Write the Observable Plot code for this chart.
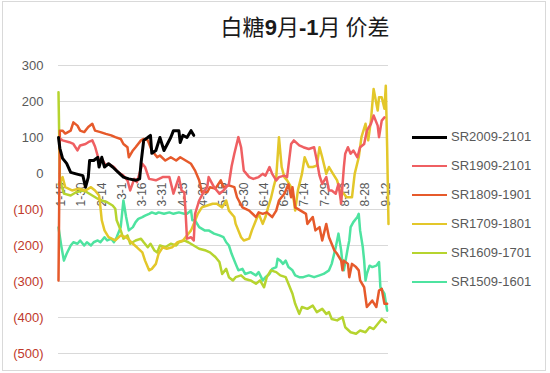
<!DOCTYPE html>
<html><head><meta charset="utf-8">
<script src="https://cdn.jsdelivr.net/npm/d3@7"></script>
<script src="https://cdn.jsdelivr.net/npm/@observablehq/plot@0.6"></script>
<style>
body{margin:0;background:#fff;}
#wrap{position:relative;width:550px;height:373px;overflow:hidden;font-family:"Liberation Sans",Arial,sans-serif;}
#frame{position:absolute;left:2px;top:1px;width:544px;height:370px;border:1px solid #d9d9d9;box-sizing:border-box;}
#title{position:absolute;left:0;width:610px;top:10px;text-align:center;font-family:"Noto Sans CJK SC",sans-serif;font-size:22px;color:#1a1a1a;line-height:30px;}
#title b{font-family:"Liberation Sans",Arial,sans-serif;font-weight:bold;}
#chart{position:absolute;left:0;top:0;}
.lg{position:absolute;left:412px;width:35px;}
.lt{position:absolute;left:451px;font-size:13px;color:#595959;line-height:16px;}
</style></head>
<body><div id="wrap"><div id="frame"></div><div id="chart"></div><div id="title">白糖<b>9</b>月<b>-1</b>月 价差</div><div id="legend"></div></div>
<script>
// tick values / labels
const yTicks = [300, 200, 100, 0, -100, -200, -300, -400, -500];
const xTickDays = [15, 30, 45, 60, 75, 90, 105, 120, 135, 150, 165, 180, 195, 210, 225, 240, 255];
const xTickLabels = ["1-15","1-30","2-14","3-1","3-16","3-31","4-15","4-30","5-15","5-30","6-14","6-29","7-14","7-29","8-13","8-28","9-12"];
const seriesNames = ["SR2009-2101","SR1909-2101","SR1809-1901","SR1709-1801","SR1609-1701","SR1509-1601"];
const seriesColors = ["#000000","#ef5f62","#e65a2b","#e3c72a","#b6d42f","#4ee3a0"];

// [day of year, spread]
const sr2009 = [[13,100],[14,70],[16,42],[19,28],[22,3],[26,-1],[31,-6],[33,-38],[35,-11],[36,36],[39,36],[42,45],[43,18],[45,45],[47,18],[50,27],[53,18],[57,4],[61,-10],[65,-15],[70,-19],[73,-15],[74,28],[76,92],[79,100],[81,106],[82,56],[85,64],[88,100],[91,64],[96,100],[98,119],[102,119],[103,86],[105,106],[108,100],[111,119],[113,106]];
const sr1909 = [[14,97],[16,92],[21,87],[24,82],[27,64],[29,78],[33,82],[35,87],[38,92],[40,75],[43,36],[45,41],[48,22],[50,27],[54,18],[56,8],[59,-1],[61,-6],[64,-19],[66,-47],[69,-15],[71,-24],[75,27],[77,18],[80,-15],[85,-19],[90,-10],[95,-10],[98,-56],[102,-10],[104,-47],[106,-52],[107,-110],[108,-181],[111,-177],[113,-186],[114,-112],[117,-75],[121,-47],[123,-38],[124,-10],[128,-38],[132,-56],[135,-47],[139,-29],[141,20],[143,55],[146,101],[148,73],[150,8],[154,-10],[157,-15],[161,-10],[164,-1],[166,-6],[169,18],[171,-1],[174,-19],[176,-10],[180,-6],[182,-10],[185,82],[187,92],[191,78],[194,73],[198,68],[202,73],[204,36],[206,-6],[208,-29],[211,-10],[213,-47],[215,-47],[218,-56],[220,-29],[222,-83],[224,18],[225,55],[227,73],[229,55],[231,64],[234,45],[236,73],[239,82],[241,119],[244,138],[246,161],[249,133],[250,101],[252,147],[254,156]];
const sr1809 = [[13,-297],[14,119],[16,119],[18,111],[22,119],[24,142],[27,133],[29,119],[32,115],[35,129],[38,138],[40,119],[44,115],[48,110],[52,106],[55,101],[59,96],[61,82],[64,73],[65,45],[68,64],[70,73],[74,92],[76,96],[79,92],[82,64],[86,45],[88,50],[92,36],[96,45],[100,36],[103,45],[107,36],[111,27],[114,8],[117,-19],[119,-52],[123,-52],[125,-38],[129,-42],[133,-19],[135,-38],[139,-33],[143,-38],[145,-66],[149,-94],[154,-103],[159,-121],[161,-108],[164,-112],[167,-108],[171,-121],[174,-103],[176,-75],[180,-56],[183,-30],[185,-66],[186,-38],[188,-94],[192,-103],[196,-112],[197,-140],[201,-121],[203,-158],[206,-149],[208,-186],[211,-140],[213,-177],[217,-214],[219,-223],[222,-242],[223,-269],[224,-242],[227,-251],[228,-288],[230,-251],[233,-260],[235,-269],[236,-297],[239,-316],[241,-371],[245,-353],[248,-371],[250,-325],[252,-320],[254,-362],[256,-362]];
const sr1709 = [[13,-30],[16,-10],[18,-38],[23,-47],[28,-42],[33,-47],[37,-38],[40,-47],[43,-61],[44,-94],[45,-130],[47,-158],[50,-177],[55,-186],[59,-172],[63,-177],[68,-195],[71,-205],[75,-219],[77,-242],[80,-269],[82,-265],[85,-251],[87,-223],[90,-205],[93,-209],[97,-205],[101,-191],[105,-186],[108,-172],[111,-158],[113,-140],[116,-112],[119,-94],[123,-89],[127,-84],[130,-84],[134,-94],[137,-75],[139,-103],[143,-121],[144,-140],[148,-177],[150,-186],[154,-181],[156,-158],[159,-130],[161,-112],[164,-140],[166,-121],[168,-94],[170,-70],[172,-38],[174,-10],[175,45],[176,101],[178,18],[180,-10],[182,-19],[185,-38],[187,-75],[188,-103],[190,-47],[193,-1],[195,45],[198,18],[201,18],[204,22],[206,73],[208,45],[211,-1],[213,18],[216,-1],[219,-19],[221,-47],[224,-56],[226,-66],[230,-66],[232,-1],[235,45],[237,101],[240,138],[242,92],[244,147],[246,235],[249,175],[250,212],[252,212],[254,180],[255,244],[256,73],[257,-140]];
const sr1609 = [[13,226],[14,-10],[15,-30],[17,-56],[22,-61],[26,-52],[31,-47],[34,-52],[38,-61],[42,-70],[45,-75],[49,-80],[53,-89],[55,-98],[56,-130],[59,-158],[61,-181],[64,-172],[66,-195],[70,-186],[74,-181],[76,-191],[79,-205],[81,-195],[84,-214],[86,-219],[88,-200],[92,-205],[96,-195],[100,-200],[102,-191],[106,-186],[109,-191],[113,-200],[117,-209],[122,-214],[125,-219],[129,-232],[132,-246],[134,-279],[137,-265],[139,-288],[142,-297],[144,-288],[148,-283],[151,-293],[155,-297],[159,-306],[162,-297],[165,-316],[167,-288],[170,-269],[174,-274],[177,-283],[181,-288],[183,-306],[186,-334],[188,-362],[191,-390],[193,-371],[197,-376],[201,-367],[204,-385],[208,-376],[211,-390],[213,-385],[215,-404],[219,-408],[223,-399],[225,-427],[229,-441],[233,-445],[236,-436],[240,-441],[243,-427],[246,-432],[249,-418],[252,-404],[255,-413]];
const sr1509 = [[13,-150],[15,-200],[17,-242],[19,-223],[22,-200],[24,-191],[27,-195],[29,-186],[32,-200],[34,-191],[37,-200],[39,-191],[42,-186],[44,-191],[47,-177],[49,-186],[52,-181],[54,-191],[56,-177],[59,-149],[61,-75],[63,-121],[65,-158],[68,-149],[70,-135],[72,-126],[75,-121],[77,-117],[80,-112],[82,-108],[85,-112],[87,-108],[91,-112],[95,-108],[98,-112],[102,-108],[106,-112],[108,-112],[111,-103],[112,-130],[114,-130],[117,-149],[121,-158],[124,-158],[128,-167],[132,-172],[135,-177],[137,-191],[139,-200],[141,-223],[144,-251],[146,-269],[149,-265],[151,-279],[155,-274],[159,-283],[161,-274],[164,-297],[166,-288],[169,-279],[171,-265],[174,-260],[175,-237],[177,-242],[179,-251],[181,-242],[183,-260],[186,-269],[188,-283],[191,-288],[194,-288],[198,-283],[202,-288],[206,-283],[209,-279],[213,-269],[215,-251],[218,-205],[220,-167],[222,-214],[223,-251],[224,-269],[227,-205],[228,-186],[229,-149],[231,-135],[234,-121],[235,-112],[236,-158],[238,-205],[239,-242],[240,-297],[241,-279],[243,-256],[245,-260],[248,-256],[250,-246],[251,-316],[254,-334],[256,-381]];

const allSeries = [sr2009, sr1909, sr1809, sr1709, sr1609, sr1509];
const gray = "#595959", red = "#c0392b";
const fmt = d => d < 0 ? `(${-d})` : `${d}`;

// draw in reverse so the first series is on top
const lineMarks = allSeries.map((s, i) => ({s, i})).reverse().map(({s, i}) =>
  Plot.line(s, {x: d => d[0], y: d => d[1], stroke: seriesColors[i], strokeWidth: i === 0 ? 3 : 2.5, curve: "linear"})
);

const chart = Plot.plot({
  width: 550, height: 373,
  marginLeft: 58, marginRight: 162, marginTop: 65, marginBottom: 20,
  style: {fontFamily: "'Liberation Sans', Arial, sans-serif", background: "transparent"},
  x: {domain: [13, 257], axis: null},
  y: {domain: [-500, 300], axis: null},
  marks: [
    Plot.ruleY(yTicks, {stroke: "#d9d9d9", strokeWidth: 1}),
    Plot.text(yTicks, {y: d => d, frameAnchor: "left", dx: -15, textAnchor: "end", text: fmt, fill: d => d < 0 ? red : gray, fontSize: 13}),
    Plot.text(xTickDays, {x: d => d, y: 0, text: (d, i) => xTickLabels[i], rotate: -90, textAnchor: "end", dy: 9, fontSize: 12, fill: gray}),
    ...lineMarks
  ]
});
document.getElementById("chart").appendChild(chart);

const legend = document.getElementById("legend");
const rowY = [137, 166, 195, 224, 253, 282];
seriesNames.forEach((n, i) => {
  const l = document.createElement("div");
  l.className = "lg";
  const h = i === 0 ? 3 : 2.5;
  l.style.top = (rowY[i] - h / 2) + "px";
  l.style.height = h + "px";
  l.style.background = seriesColors[i];
  legend.appendChild(l);
  const t = document.createElement("div");
  t.className = "lt";
  t.style.top = (rowY[i] - 8) + "px";
  t.textContent = n;
  legend.appendChild(t);
});
</script>
</body></html>
